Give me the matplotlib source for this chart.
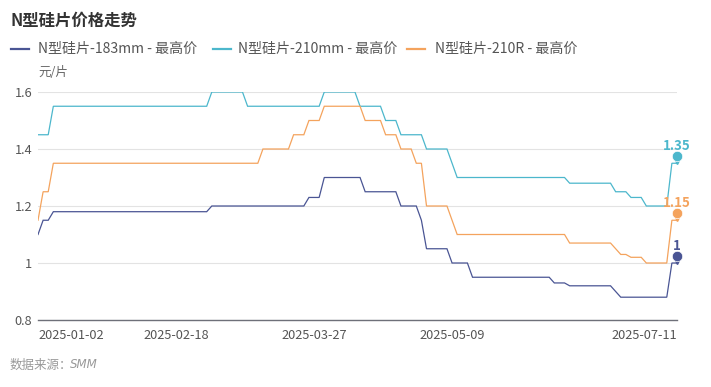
import matplotlib
matplotlib.use('Agg')
import matplotlib.pyplot as plt
import matplotlib.transforms as mtransforms
from matplotlib.lines import Line2D
import pandas as pd

plt.rcParams['font.family'] = ['Noto Sans CJK SC', 'DejaVu Sans']

# trading days (SMM quotes), CN holidays skipped
holidays = ['2025-01-28', '2025-01-29', '2025-01-30', '2025-01-31', '2025-02-03',
            '2025-02-04', '2025-04-04', '2025-05-01', '2025-05-02', '2025-05-05',
            '2025-06-02']
dates = pd.bdate_range('2025-01-02', '2025-07-11', freq='C', holidays=holidays)
date_labels = [d.strftime('%Y-%m-%d') for d in dates]
tick_labels = ['2025-01-02', '2025-02-18', '2025-03-27', '2025-05-09', '2025-07-11']

names = ['N型硅片-183mm - 最高价', 'N型硅片-210mm - 最高价', 'N型硅片-210R - 最高价']
colors = ['#4a5594', '#4cb7cc', '#f4a35d']

p183 = [1.10, 1.15, 1.15,
        1.18, 1.18, 1.18, 1.18, 1.18, 1.18, 1.18, 1.18, 1.18, 1.18,
        1.18, 1.18, 1.18, 1.18, 1.18, 1.18, 1.18, 1.18, 1.18, 1.18,
        1.18, 1.18, 1.18, 1.18, 1.18, 1.18, 1.18, 1.18, 1.18, 1.18,
        1.18,
        1.20, 1.20, 1.20, 1.20, 1.20, 1.20, 1.20, 1.20, 1.20, 1.20,
        1.20, 1.20, 1.20, 1.20, 1.20, 1.20, 1.20, 1.20, 1.20,
        1.23, 1.23, 1.23,
        1.30, 1.30, 1.30, 1.30, 1.30, 1.30, 1.30, 1.30,
        1.25, 1.25, 1.25, 1.25, 1.25, 1.25, 1.25,
        1.20, 1.20, 1.20, 1.20,
        1.15,
        1.05, 1.05, 1.05, 1.05, 1.05,
        1.00, 1.00, 1.00, 1.00,
        0.95, 0.95, 0.95, 0.95, 0.95, 0.95, 0.95, 0.95, 0.95, 0.95,
        0.95, 0.95, 0.95, 0.95, 0.95, 0.95,
        0.93, 0.93, 0.93,
        0.92, 0.92, 0.92, 0.92, 0.92, 0.92, 0.92, 0.92, 0.92,
        0.90,
        0.88, 0.88, 0.88, 0.88, 0.88, 0.88, 0.88, 0.88, 0.88, 0.88,
        1.00, 1.00]

p210 = [1.45, 1.45, 1.45,
        1.55, 1.55, 1.55, 1.55, 1.55, 1.55, 1.55, 1.55, 1.55, 1.55,
        1.55, 1.55, 1.55, 1.55, 1.55, 1.55, 1.55, 1.55, 1.55, 1.55,
        1.55, 1.55, 1.55, 1.55, 1.55, 1.55, 1.55, 1.55, 1.55, 1.55,
        1.55,
        1.60, 1.60, 1.60, 1.60, 1.60, 1.60, 1.60,
        1.55, 1.55, 1.55, 1.55, 1.55, 1.55, 1.55, 1.55, 1.55, 1.55,
        1.55, 1.55, 1.55, 1.55, 1.55,
        1.60, 1.60, 1.60, 1.60, 1.60, 1.60, 1.60,
        1.55, 1.55, 1.55, 1.55, 1.55,
        1.50, 1.50, 1.50,
        1.45, 1.45, 1.45, 1.45, 1.45,
        1.40, 1.40, 1.40, 1.40, 1.40,
        1.35,
        1.30, 1.30, 1.30, 1.30, 1.30, 1.30, 1.30, 1.30, 1.30, 1.30,
        1.30, 1.30, 1.30, 1.30, 1.30, 1.30, 1.30, 1.30, 1.30, 1.30,
        1.30, 1.30,
        1.28, 1.28, 1.28, 1.28, 1.28, 1.28, 1.28, 1.28, 1.28,
        1.25, 1.25, 1.25,
        1.23, 1.23, 1.23,
        1.20, 1.20, 1.20, 1.20, 1.20,
        1.35, 1.35]

p210r = [1.15, 1.25, 1.25,
         1.35, 1.35, 1.35, 1.35, 1.35, 1.35, 1.35, 1.35, 1.35, 1.35,
         1.35, 1.35, 1.35, 1.35, 1.35, 1.35, 1.35, 1.35, 1.35, 1.35,
         1.35, 1.35, 1.35, 1.35, 1.35, 1.35, 1.35, 1.35, 1.35, 1.35,
         1.35, 1.35, 1.35, 1.35, 1.35, 1.35, 1.35, 1.35, 1.35, 1.35,
         1.35,
         1.40, 1.40, 1.40, 1.40, 1.40, 1.40,
         1.45, 1.45, 1.45,
         1.50, 1.50, 1.50,
         1.55, 1.55, 1.55, 1.55, 1.55, 1.55, 1.55, 1.55,
         1.50, 1.50, 1.50, 1.50,
         1.45, 1.45, 1.45,
         1.40, 1.40, 1.40,
         1.35, 1.35,
         1.20, 1.20, 1.20, 1.20, 1.20,
         1.15,
         1.10, 1.10, 1.10, 1.10, 1.10, 1.10, 1.10, 1.10, 1.10, 1.10,
         1.10, 1.10, 1.10, 1.10, 1.10, 1.10, 1.10, 1.10, 1.10, 1.10,
         1.10, 1.10,
         1.07, 1.07, 1.07, 1.07, 1.07, 1.07, 1.07, 1.07, 1.07,
         1.05,
         1.03, 1.03,
         1.02, 1.02, 1.02,
         1.00, 1.00, 1.00, 1.00, 1.00,
         1.15, 1.15]

series = [p183, p210, p210r]
last_labels = ['1', '1.35', '1.15']

W, H = 711, 387
fig = plt.figure(figsize=(W / 100, H / 100), dpi=100)
ax = fig.add_axes([38 / W, 67 / H, 639 / W, 228 / H])

x = list(range(len(date_labels)))
for vals, c in zip(series, colors):
    ax.plot(x, vals, color=c, lw=0.9, solid_joinstyle='miter')

# pin marker + value label on the last point
pin = mtransforms.offset_copy(ax.transData, fig=fig, x=0, y=7, units='dots')
tip = mtransforms.offset_copy(ax.transData, fig=fig, x=0, y=2, units='dots')
lab = mtransforms.offset_copy(ax.transData, fig=fig, x=0, y=17, units='dots')
for vals, c, t in zip(series, colors, last_labels):
    ax.plot(x[-1], vals[-1], 'v', color=c, ms=4, transform=tip, clip_on=False, zorder=5)
    ax.plot(x[-1], vals[-1], 'o', color=c, ms=7.5, mec='white', mew=0.5,
            transform=pin, clip_on=False, zorder=6)
    ax.text(x[-1], vals[-1], t, color=c, fontsize=9.5, fontweight='bold',
            ha='center', va='center', transform=lab, clip_on=False)

ax.set_xlim(0, len(x) - 1)
ax.set_ylim(0.8, 1.6)
ax.set_yticks([0.8, 1.0, 1.2, 1.4, 1.6])
ax.set_yticklabels(['0.8', '1', '1.2', '1.4', '1.6'])
tick_pos = [date_labels.index(t) for t in tick_labels]
ax.set_xticks(tick_pos)
ax.set_xticklabels(tick_labels)
xt = ax.get_xticklabels()
xt[0].set_ha('left')
xt[-1].set_ha('right')

for s in ['left', 'right', 'top']:
    ax.spines[s].set_visible(False)
ax.spines['bottom'].set_color('#6e7079')
ax.spines['bottom'].set_linewidth(1.0)
ax.yaxis.grid(True, color='#e3e3e3', lw=0.8)
ax.set_axisbelow(True)
ax.tick_params(axis='both', length=0, labelsize=9.2, labelcolor='#555555')
ax.tick_params(axis='y', pad=4)
ax.tick_params(axis='x', pad=6.5)

fig.text(10 / W, 1 - 21 / H, 'N型硅片价格走势', fontsize=11.8, fontweight='bold',
         color='#333333', ha='left', va='center')
fig.text(38 / W, 1 - 72 / H, '元/片', fontsize=9, color='#666666', ha='left', va='center')
fig.text(10 / W, 1 - 365 / H, '数据来源：', fontsize=9, color='#999999',
         ha='left', va='center')
fig.text(70 / W, 1 - 365 / H, 'SMM', fontsize=8.5, color='#999999',
         family='DejaVu Sans', style='italic', ha='left', va='center')

# legend row
ly = 1 - 49 / H
hx = [11, 213, 407]
tx = [38, 238, 435]
for h, t0, name, c in zip(hx, tx, names, colors):
    fig.add_artist(Line2D([h / W, (h + 18) / W], [ly, ly], color=c, lw=1.6,
                          transform=fig.transFigure))
    fig.text(t0 / W, ly, name, fontsize=10.1, color='#555555', ha='left', va='center')

fig.savefig('out.png', dpi=100)
